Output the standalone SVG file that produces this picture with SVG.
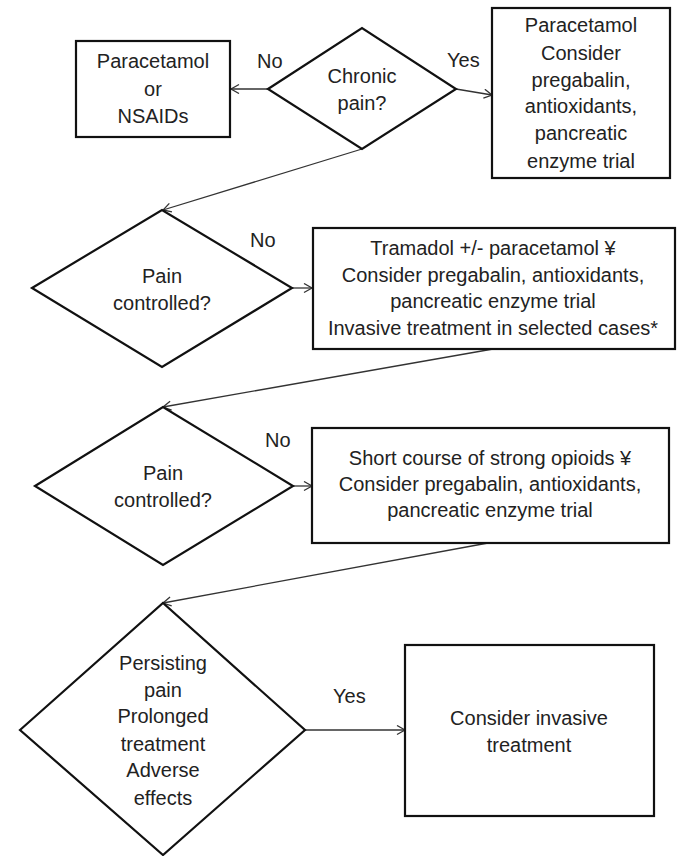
<svg xmlns="http://www.w3.org/2000/svg" width="678" height="856" viewBox="0 0 678 856">
<style>
.n{fill:#fff;stroke:#111;stroke-width:2.2}
.t{font-family:"Liberation Sans",Arial,sans-serif;font-size:20px;fill:#222;text-anchor:middle}
.l{font-family:"Liberation Sans",Arial,sans-serif;font-size:20px;fill:#222}
.c{fill:none;stroke:#333;stroke-width:1.3}
</style>
<defs>
<marker id="ah" markerUnits="userSpaceOnUse" markerWidth="12" markerHeight="12" refX="9" refY="5" orient="auto">
<path d="M1,0.5 L9,5 L1,9.5" fill="none" stroke="#333" stroke-width="1.3"/>
</marker>
</defs>
<rect width="678" height="856" fill="#fff"/>
<g id="connectors">
<line class="c" x1="268" y1="89" x2="231" y2="89" marker-end="url(#ah)"/>
<line class="c" x1="456" y1="89" x2="492" y2="95" marker-end="url(#ah)"/>
<line class="c" x1="362" y1="149" x2="163" y2="210" marker-end="url(#ah)"/>
<line class="c" x1="292" y1="288" x2="312" y2="288" marker-end="url(#ah)"/>
<line class="c" x1="493" y1="349" x2="163" y2="407" marker-end="url(#ah)"/>
<line class="c" x1="293" y1="486" x2="312" y2="486" marker-end="url(#ah)"/>
<line class="c" x1="488" y1="543" x2="163" y2="603" marker-end="url(#ah)"/>
<line class="c" x1="305" y1="730" x2="405" y2="730" marker-end="url(#ah)"/>
<text class="l" x="257" y="68">No</text>
<text class="l" x="447" y="67">Yes</text>
<text class="l" x="250" y="247">No</text>
<text class="l" x="265" y="447">No</text>
<text class="l" x="333" y="703">Yes</text>
</g>
<g id="box-nsaids">
<rect class="n" x="76" y="41" width="154" height="96"/>
<text class="t" x="153" y="68">Paracetamol</text>
<text class="t" x="153" y="96">or</text>
<text class="t" x="153" y="123">NSAIDs</text>
</g>
<g id="dec-chronic">
<polygon class="n" points="268,89 362,28 456,89 362,149"/>
<text class="t" x="362" y="83">Chronic</text>
<text class="t" x="362" y="110">pain?</text>
</g>
<g id="box-chronic">
<rect class="n" x="492" y="8" width="178" height="170"/>
<text class="t" x="581" y="32">Paracetamol</text>
<text class="t" x="581" y="60">Consider</text>
<text class="t" x="581" y="87">pregabalin,</text>
<text class="t" x="581" y="113">antioxidants,</text>
<text class="t" x="581" y="140">pancreatic</text>
<text class="t" x="581" y="168">enzyme trial</text>
</g>
<g id="dec-pain1">
<polygon class="n" points="32,288 162,210 292,288 162,367"/>
<text class="t" x="162" y="283">Pain</text>
<text class="t" x="162" y="310">controlled?</text>
</g>
<g id="box-tramadol">
<rect class="n" x="313" y="228" width="362" height="121"/>
<text class="t" x="493" y="255">Tramadol +/- paracetamol ¥</text>
<text class="t" x="493" y="282">Consider pregabalin, antioxidants,</text>
<text class="t" x="493" y="308">pancreatic enzyme trial</text>
<text class="t" x="493" y="335">Invasive treatment in selected cases*</text>
</g>
<g id="dec-pain2">
<polygon class="n" points="35,486 163,407 293,486 163,565"/>
<text class="t" x="163" y="480">Pain</text>
<text class="t" x="163" y="507">controlled?</text>
</g>
<g id="box-opioids">
<rect class="n" x="312" y="428" width="357" height="115"/>
<text class="t" x="490" y="465">Short course of strong opioids ¥</text>
<text class="t" x="490" y="491">Consider pregabalin, antioxidants,</text>
<text class="t" x="490" y="517">pancreatic enzyme trial</text>
</g>
<g id="dec-persisting">
<polygon class="n" points="20,730 163,603 305,730 163,855"/>
<text class="t" x="163" y="670">Persisting</text>
<text class="t" x="163" y="697">pain</text>
<text class="t" x="163" y="723">Prolonged</text>
<text class="t" x="163" y="751">treatment</text>
<text class="t" x="163" y="777">Adverse</text>
<text class="t" x="163" y="805">effects</text>
</g>
<g id="box-invasive">
<rect class="n" x="405" y="645" width="249" height="171"/>
<text class="t" x="529" y="725">Consider invasive</text>
<text class="t" x="529" y="752">treatment</text>
</g>
</svg>
